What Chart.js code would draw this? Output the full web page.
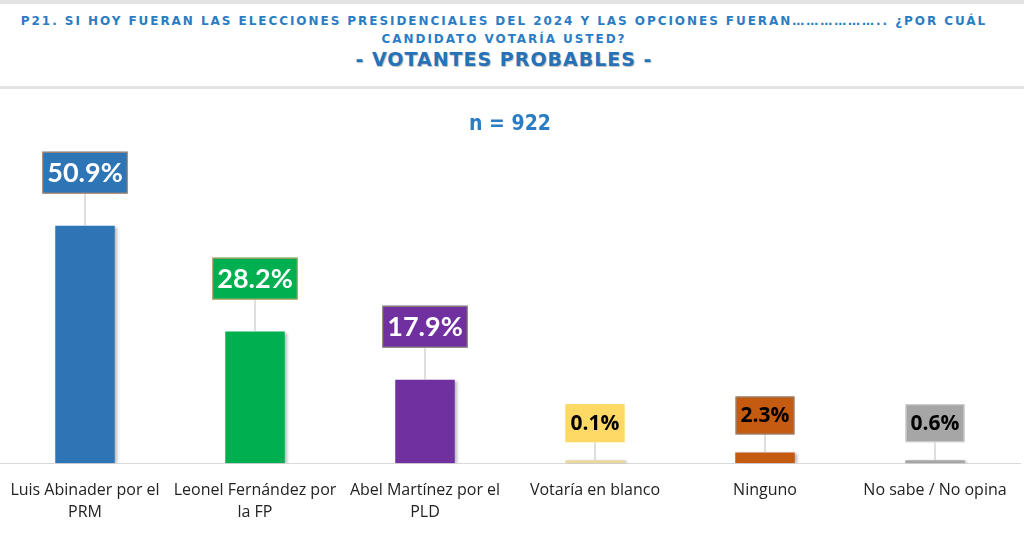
<!DOCTYPE html>
<html lang="es">
<head>
    <meta charset="UTF-8">
    <title>Votantes probables</title>
    <script src="https://cdn.jsdelivr.net/npm/chart.js"></script>
    <style>
        body { margin: 0; background: #fff; width: 1024px; height: 536px; overflow: hidden; position: relative; font-family: "DejaVu Sans", sans-serif; }
        .topband { position: absolute; left: 0; top: 0; width: 1024px; height: 4px; background: #e3e3e3; }
        .sep { position: absolute; left: 0; top: 86px; width: 1024px; height: 3px; background: #e3e3e3; }
        .t { position: absolute; left: -8px; width: 1024px; text-align: center; color: #2a7cc4; font-weight: bold; white-space: nowrap; }
        .t1 { top: 14px; font-size: 12px; letter-spacing: 1.95px; }
        .t2 { top: 32px; font-size: 12px; letter-spacing: 1.95px; }
        .t3 { top: 48px; font-size: 19px; letter-spacing: 1px; color: #2672b8; text-shadow: 1px 1px 1px rgba(0,0,0,0.25); }
        #wrap { position: absolute; left: 0; top: 90px; width: 1024px; height: 446px; }
    </style>
</head>
<body>
<div class="topband"></div>
<div class="t t1">P21. SI HOY FUERAN LAS ELECCIONES PRESIDENCIALES DEL 2024 Y LAS OPCIONES FUERAN……………….. ¿POR CUÁL</div>
<div class="t t2">CANDIDATO VOTARÍA USTED?</div>
<div class="t t3">- VOTANTES PROBABLES -</div>
<div class="sep"></div>
<div id="wrap"><canvas id="votosChart"></canvas></div>

<script>
    // datos
    const categories = [
        ['Luis Abinader por el', 'PRM'],
        ['Leonel Fernández por', 'la FP'],
        ['Abel Martínez por el', 'PLD'],
        'Votaría en blanco',
        'Ninguno',
        'No sabe / No opina'
    ];
    const values = [50.9, 28.2, 17.9, 0.1, 2.3, 0.6];
    const sampleLabel = 'n = 922';

    // colores
    const barColors = ['#2e75b6', '#00b050', '#7030a0', '#e9d79e', '#c55a11', '#a6a6a6'];
    const boxColors = ['#2e75b6', '#00b050', '#7030a0', '#ffd966', '#c55a11', '#a6a6a6'];
    const boxBorders = ['#c98a5e', '#e0a070', '#8fa070', '#ffd966', '#8c8c8c', '#d4d4d4'];
    const textColors = ['#ffffff', '#ffffff', '#ffffff', '#000000', '#000000', '#000000'];

    // sombra suave en las barras
    const barShadow = {
        id: 'barShadow',
        beforeDatasetsDraw(chart) {
            const ctx = chart.ctx;
            ctx.save();
            ctx.shadowColor = 'rgba(0,0,0,0.3)';
            ctx.shadowBlur = 3;
            ctx.shadowOffsetX = 2;
            ctx.shadowOffsetY = 1;
        },
        afterDatasetsDraw(chart) {
            chart.ctx.restore();
        }
    };

    // etiquetas en cajas con linea guia
    const boxLabels = {
        id: 'boxLabels',
        afterDraw(chart) {
            const ctx = chart.ctx;
            const meta = chart.getDatasetMeta(0);
            ctx.save();
            meta.data.forEach((bar, i) => {
                const big = values[i] > 5;
                const txt = values[i].toFixed(1) + '%';
                ctx.font = big ? 'bold 27px Lato' : 'bold 21px "Open Sans"';
                const w = ctx.measureText(txt).width + 10;
                const h = big ? 42 : 38;
                const gap = big ? 32 : 18;
                const bottom = bar.y - gap;
                const left = bar.x - w / 2;

                ctx.strokeStyle = '#bfbfbf';
                ctx.lineWidth = 1;
                ctx.beginPath();
                ctx.moveTo(bar.x, bottom);
                ctx.lineTo(bar.x, bar.y);
                ctx.stroke();

                ctx.fillStyle = boxColors[i];
                ctx.fillRect(left, bottom - h, w, h);
                ctx.strokeStyle = boxBorders[i];
                ctx.strokeRect(left + 0.5, bottom - h + 0.5, w - 1, h - 1);

                ctx.fillStyle = textColors[i];
                ctx.textAlign = 'center';
                ctx.textBaseline = 'middle';
                ctx.fillText(txt, bar.x, bottom - h / 2 + 1);
            });
            ctx.restore();
        }
    };

    const ctx = document.getElementById('votosChart').getContext('2d');

    new Chart(ctx, {
        type: 'bar',
        data: {
            labels: categories,
            datasets: [{
                data: values,
                backgroundColor: barColors,
                borderWidth: 0,
                minBarLength: 3,
                barPercentage: 0.7,
                categoryPercentage: 0.5
            }]
        },
        options: {
            responsive: true,
            maintainAspectRatio: false,
            animation: false,
            layout: { padding: { left: 0, right: 4, top: 0, bottom: 4 } },
            plugins: {
                legend: { display: false },
                tooltip: { enabled: false },
                title: {
                    display: true,
                    text: sampleLabel,
                    color: '#2a7cc4',
                    font: { family: '"DejaVu Sans Condensed"', size: 21, weight: 'bold' },
                    padding: { top: 22, bottom: 46 }
                }
            },
            scales: {
                x: {
                    grid: { display: false },
                    border: { display: true, color: '#d9d9d9', width: 1 },
                    ticks: {
                        color: '#222222',
                        font: { family: '"Open Sans"', size: 16, lineHeight: 1.4 },
                        padding: 8,
                        maxRotation: 0,
                        autoSkip: false
                    }
                },
                y: {
                    display: false,
                    min: 0,
                    max: 60
                }
            }
        },
        plugins: [barShadow, boxLabels]
    });
</script>
</body>
</html>
